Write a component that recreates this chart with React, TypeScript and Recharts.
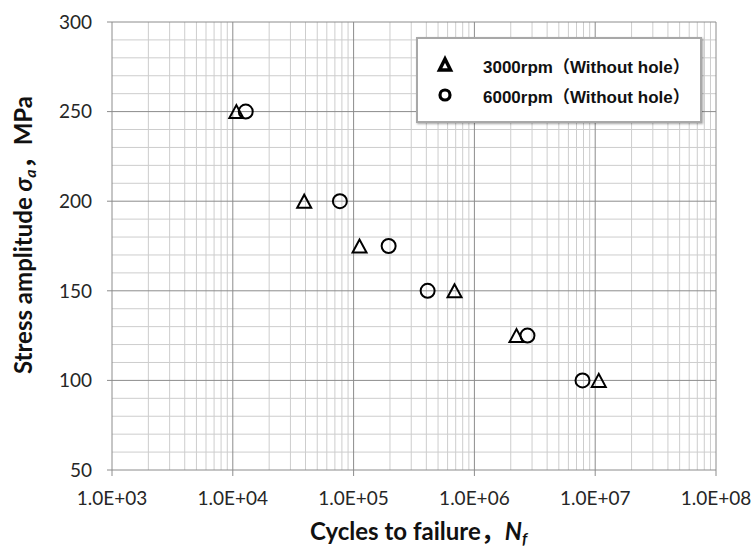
import React from 'react';
import { ScatterChart, Scatter, XAxis, YAxis, ReferenceLine, Legend, Customized } from 'recharts';

const xTicks = [1e3, 1e4, 1e5, 1e6, 1e7, 1e8];
const yTicks = [50, 100, 150, 200, 250, 300];
const stressLevels = [250, 200, 175, 150, 125, 100];
const cycles3000 = [1.07e4, 3.9e4, 1.12e5, 6.85e5, 2.23e6, 1.07e7];
const cycles6000 = [1.28e4, 7.7e4, 1.95e5, 4.1e5, 2.75e6, 7.85e6];
const seriesNames = ['3000rpm（Without hole）', '6000rpm（Without hole）'];

const data3000 = stressLevels.map((s, i) => ({ x: cycles3000[i], y: s }));
const data6000 = stressLevels.map((s, i) => ({ x: cycles6000[i], y: s }));

const xMinor: number[] = [];
xTicks.slice(0, -1).forEach((d) => {
  for (let m = 2; m <= 9; m++) xMinor.push(d * m);
});
const yMinor: number[] = [];
for (let v = 60; v < 300; v += 10) if (v % 50 !== 0) yMinor.push(v);

const MINOR = '#cdcdcd';
const MAJOR = '#8c8c8c';
const TICK_FONT = 'Lato, "Open Sans", sans-serif';
const TITLE_FONT = 'Lato, "Noto Sans CJK JP", sans-serif';

const fmt = (v: number) => {
  const e = Math.round(Math.log10(v));
  return `1.0E+${String(e).padStart(2, '0')}`;
};

const Triangle = (p: any) => {
  const { cx, cy } = p;
  if (cx == null || cy == null) return null;
  return (
    <path
      d={`M${cx},${cy - 6.5} L${cx - 7},${cy + 6.5} L${cx + 7},${cy + 6.5} Z`}
      fill="none"
      stroke="#000"
      strokeWidth={2}
    />
  );
};

const Circle = (p: any) => {
  const { cx, cy } = p;
  if (cx == null || cy == null) return null;
  return <circle cx={cx} cy={cy} r={7} fill="none" stroke="#000" strokeWidth={2} />;
};

const LegendBox = () => (
  <div
    style={{
      width: 286,
      height: 86,
      boxSizing: 'border-box',
      border: '2px solid #a8a8a8',
      boxShadow: '1px 1px 2px rgba(0,0,0,0.35)',
      background: '#fff',
      position: 'relative',
      fontFamily: '"Liberation Sans", Arial, "Noto Sans CJK JP", sans-serif',
      fontWeight: 'bold',
      fontSize: 17,
      color: '#111',
    }}
  >
    {seriesNames.map((name, i) => (
      <div
        key={name}
        style={{ position: 'absolute', left: 0, top: 15 + i * 30, height: 22, display: 'flex', alignItems: 'center' }}
      >
        <svg width={60} height={22} style={{ display: 'block' }}>
          {i === 0 ? (
            <path d="M27,5 L21.5,16 L32.5,16 Z" fill="none" stroke="#000" strokeWidth={3.5} strokeLinejoin="miter" />
          ) : (
            <circle cx={27} cy={11} r={5} fill="none" stroke="#000" strokeWidth={3.2} />
          )}
        </svg>
        <span style={{ marginLeft: 5, whiteSpace: 'nowrap' }}>{name}</span>
      </div>
    ))}
  </div>
);

const Titles = () => (
  <g>
    <text x={310} y={540} fontFamily={TITLE_FONT} fontWeight="bold" fontSize={24} fill="#111">
      Cycles to failure，
      <tspan fontStyle="italic">N</tspan>
      <tspan fontStyle="italic" fontSize={16} dy={4}>f</tspan>
    </text>
    <text
      x={0}
      y={0}
      transform="translate(32,235) rotate(-90)"
      textAnchor="middle"
      fontFamily={TITLE_FONT}
      fontWeight="bold"
      fontSize={24}
      fill="#111"
    >
      Stress amplitude{' '}
      <tspan fontStyle="italic">σ</tspan>
      <tspan fontStyle="italic" fontSize={16} dy={4}>a</tspan>
      <tspan dy={-4}>，MPa</tspan>
    </text>
  </g>
);

export default function App() {
  return (
    <div style={{ position: 'absolute', left: 0, top: 0, background: '#fff' }}>
      <ScatterChart width={754} height={546} margin={{ top: 22, right: 38, bottom: 36, left: 42 }}>
        <XAxis
          type="number"
          dataKey="x"
          scale="log"
          domain={[1e3, 1e8]}
          ticks={xTicks}
          interval={0}
          allowDataOverflow
          tickFormatter={fmt}
          height={40}
          tickSize={6}
          tickMargin={16}
          stroke={MAJOR}
          tick={{ fill: '#262626', fontSize: 19, fontFamily: TICK_FONT }}
        />
        <YAxis
          type="number"
          dataKey="y"
          domain={[50, 300]}
          ticks={yTicks}
          interval={0}
          allowDataOverflow
          width={70}
          tickSize={5}
          tickMargin={15}
          stroke={MAJOR}
          tick={{ fill: '#262626', fontSize: 19, fontFamily: TICK_FONT }}
        />
        {xMinor.map((v) => (
          <ReferenceLine key={`xm${v}`} x={v} stroke={MINOR} strokeWidth={1} />
        ))}
        {yMinor.map((v) => (
          <ReferenceLine key={`ym${v}`} y={v} stroke={MINOR} strokeWidth={1} />
        ))}
        {xTicks.slice(1).map((v) => (
          <ReferenceLine key={`xM${v}`} x={v} stroke={MAJOR} strokeWidth={1} />
        ))}
        {yTicks.slice(1).map((v) => (
          <ReferenceLine key={`yM${v}`} y={v} stroke={MAJOR} strokeWidth={1} />
        ))}
        <Scatter name={seriesNames[0]} data={data3000} shape={Triangle} isAnimationActive={false} />
        <Scatter name={seriesNames[1]} data={data6000} shape={Circle} isAnimationActive={false} />
        <Legend
          layout="horizontal"
          verticalAlign="middle"
          align="center"
          content={() => <LegendBox />}
          wrapperStyle={{ left: 416, top: 37, width: 286, height: 86 }}
        />
        <Customized component={Titles} />
      </ScatterChart>
    </div>
  );
}
